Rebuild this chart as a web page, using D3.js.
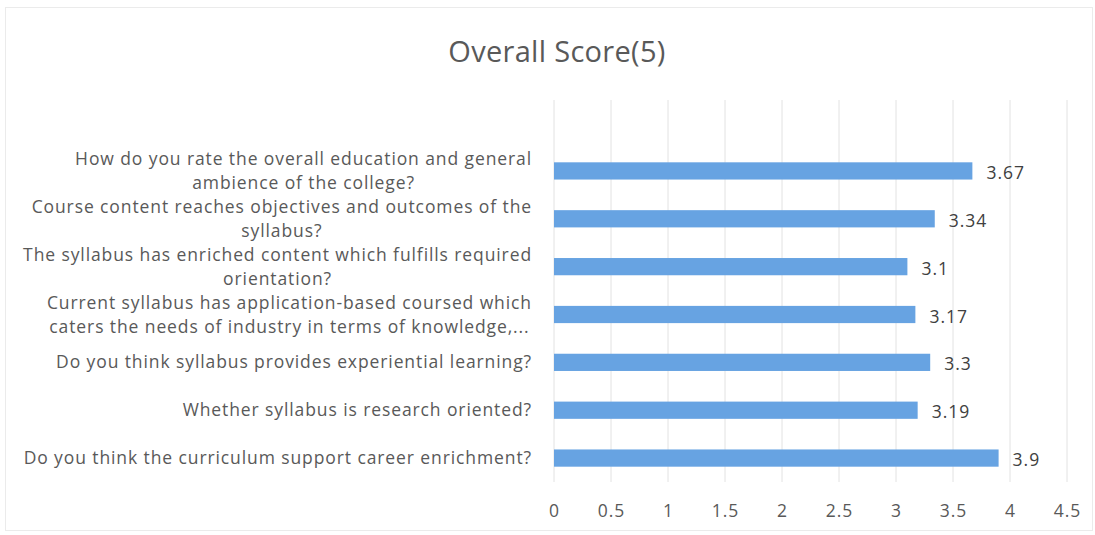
<!DOCTYPE html>
<html>
<head>
<meta charset="utf-8">
<script src="https://cdn.jsdelivr.net/npm/d3@7"></script>
<style>
  body { margin:0; background:#fff; }
  text { font-family:"Open Sans", sans-serif; }
</style>
</head>
<body>
<svg id="graph"></svg>
<script>
var questions = [
    "How do you rate the overall education and general\nambience of the college?",
    "Course content reaches objectives and outcomes of the\nsyllabus?",
    "The syllabus has enriched content which fulfills required\norientation?",
    "Current syllabus has application-based coursed which\ncaters the needs of industry in terms of knowledge,...",
    "Do you think syllabus provides experiential learning?",
    "Whether syllabus is research oriented?",
    "Do you think the curriculum support career enrichment?"
]
var scores = [3.67, 3.34, 3.1, 3.17, 3.3, 3.19, 3.9]
var tickValues = [0, 0.5, 1, 1.5, 2, 2.5, 3, 3.5, 4, 4.5]
var chartTitle = "Overall Score(5)"

var initGraph = function()
    {
        var screen = {width:1095, height:535}
        var plot = {left:554, right:1067, top:100, bandTop:147, bottom:482}

        var svg = d3.select("#graph")
            .attr("width", screen.width)
            .attr("height", screen.height)

        // faint chart border
        svg.append("rect")
            .attr("x", 5.5).attr("y", 7.5)
            .attr("width", screen.width - 8).attr("height", screen.height - 12)
            .attr("fill", "none")
            .attr("stroke", "#ebebeb")

        var xScale = d3.scaleLinear()
            .domain([0, 4.5])
            .range([plot.left, plot.right])

        var yScale = d3.scaleBand()
            .domain(questions)
            .range([plot.bandTop, plot.bottom])
            .paddingInner(0.64)
            .paddingOuter(0.32)

        // gridlines
        svg.append("g")
            .selectAll("line")
            .data(tickValues)
            .enter()
            .append("line")
            .attr("x1", function(d){ return xScale(d) })
            .attr("x2", function(d){ return xScale(d) })
            .attr("y1", plot.top)
            .attr("y2", plot.bottom)
            .attr("stroke", "#e2e2e2")
            .attr("stroke-width", 1)

        // bars
        svg.append("g")
            .selectAll("rect")
            .data(scores)
            .enter()
            .append("rect")
            .attr("x", xScale(0))
            .attr("y", function(d, i){ return yScale(questions[i]) })
            .attr("width", function(d){ return xScale(d) - xScale(0) })
            .attr("height", yScale.bandwidth())
            .attr("fill", "#67a3e2")

        // value labels
        svg.append("g")
            .selectAll("text")
            .data(scores)
            .enter()
            .append("text")
            .attr("x", function(d){ return xScale(d) + 14 })
            .attr("y", function(d, i){ return yScale(questions[i]) + yScale.bandwidth() / 2 + 2 })
            .attr("dy", "0.35em")
            .attr("font-size", "17.5px")
            .attr("letter-spacing", "1px")
            .attr("fill", "#404040")
            .text(function(d){ return d })

        // x axis labels
        var xAxis = d3.axisBottom(xScale)
            .tickValues(tickValues)
            .tickSize(0)
            .tickPadding(0)
            .tickFormat(function(d){ return d })
        var ax = svg.append("g")
            .attr("transform", "translate(0,505)")
            .call(xAxis)
        ax.select(".domain").remove()
        ax.selectAll("text")
            .attr("font-family", "Open Sans, sans-serif")
            .attr("font-size", "17.5px")
            .attr("letter-spacing", "1px")
            .attr("fill", "#595959")

        // category labels, lines centred in a right-aligned block
        var labelRight = 532
        var lineH = 24
        var labels = svg.append("g")
        questions.forEach(function(q, i)
            {
                var lines = q.split("\n")
                var cy = yScale(q) + yScale.bandwidth() / 2
                var t = labels.append("text")
                    .attr("font-size", "17.5px")
                    .attr("letter-spacing", "0.9px")
                    .attr("fill", "#595959")
                    .attr("text-anchor", "middle")
                lines.forEach(function(line, j)
                    {
                        t.append("tspan")
                            .attr("y", cy + (j - (lines.length - 1) / 2) * lineH)
                            .attr("dy", "0.35em")
                            .text(line)
                    })
                var w = 0
                t.selectAll("tspan").each(function(){ w = Math.max(w, this.getComputedTextLength()) })
                t.selectAll("tspan").attr("x", labelRight - w / 2)
            })

        // title
        svg.append("text")
            .attr("x", 557)
            .attr("y", 52)
            .attr("dy", "0.35em")
            .attr("text-anchor", "middle")
            .attr("font-size", "29px")
            .attr("letter-spacing", "0.3px")
            .attr("fill", "#595959")
            .text(chartTitle)
    }

initGraph();
</script>
</body>
</html>
